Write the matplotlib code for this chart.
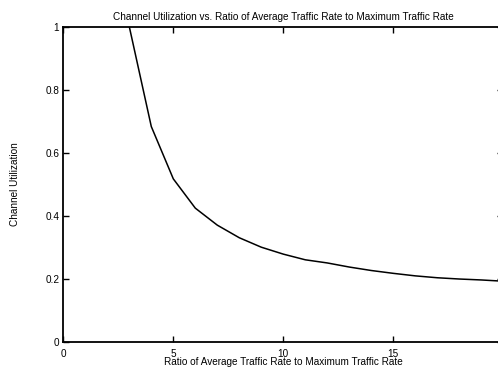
"""
Channel utilization as a function of the ratio of average traffic rate
to maximum traffic rate.
"""

import matplotlib
matplotlib.use("Agg")
import matplotlib.pyplot as plt

plt.rcParams['font.family'] = ['Liberation Sans', 'DejaVu Sans']

# Ratio of average to maximum traffic rate
ratio = [3, 4, 5, 6, 7, 8, 9, 10, 11, 12, 13, 14, 15, 16, 17, 18, 19, 20]
# Resulting channel utilization
utilization = [1.0, 0.683, 0.517, 0.424, 0.370, 0.330, 0.300, 0.278, 0.260,
               0.250, 0.237, 0.226, 0.217, 0.209, 0.203, 0.199, 0.196, 0.192]

x_ticks = [0, 5, 10, 15, 20]
y_ticks = [0, 0.2, 0.4, 0.6, 0.8, 1]
y_tick_labels = ["0", "0.2", "0.4", "0.6", "0.8", "1"]


def main():
    fig = plt.figure(figsize=(4.98, 3.67), dpi=100)
    # axes runs slightly past the right edge of the figure
    ax = fig.add_axes([63.3 / 498, 1 - 341.7 / 367, 440 / 498, 315 / 367])

    ax.plot(ratio, utilization, color='black', linewidth=1.1)

    ax.set_xlim(0, 20)
    ax.set_ylim(0, 1)
    ax.set_xticks(x_ticks)
    ax.set_yticks(y_ticks)
    ax.set_yticklabels(y_tick_labels)
    ax.tick_params(direction='in', length=4, width=1, labelsize=7.2,
                   top=True, right=True)
    ax.tick_params(axis='x', pad=5)
    ax.tick_params(axis='y', pad=3)
    for spine in ax.spines.values():
        spine.set_linewidth(1.3)

    ax.set_title("Channel Utilization vs. Ratio of Average Traffic Rate to Maximum Traffic Rate",
                 fontsize=7.2, pad=5)
    ax.set_xlabel("Ratio of Average Traffic Rate to Maximum Traffic Rate",
                  fontsize=7.2, labelpad=-1)
    ax.set_ylabel("Channel Utilization", fontsize=7.2, labelpad=18)

    fig.savefig("out.png", dpi=100)


if __name__ == "__main__":
    main()
